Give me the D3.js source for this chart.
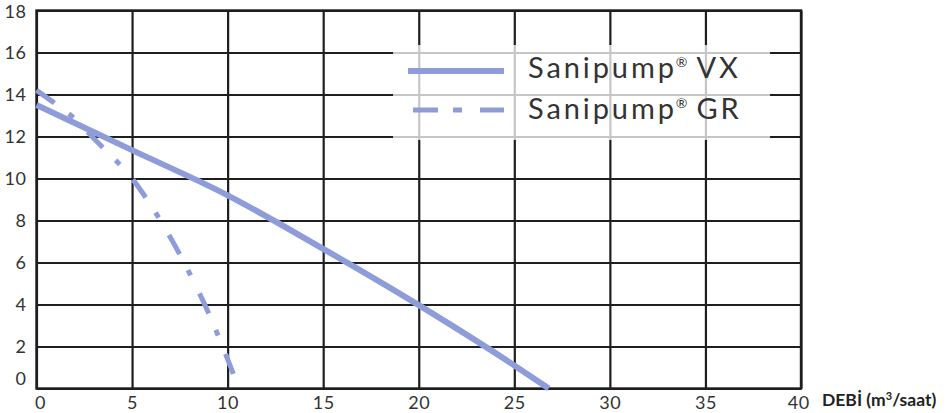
<!DOCTYPE html>
<html>
<head>
<meta charset="utf-8">
<script src="https://cdn.jsdelivr.net/npm/d3@7"></script>
<style>
  html, body { margin: 0; padding: 0; background: #ffffff; }
  svg { display: block; }
</style>
</head>
<body>
<svg id="chart" width="947" height="413"></svg>
<script>
// ---- data ----
const xTicks = [0, 5, 10, 15, 20, 25, 30, 35, 40];
const yTicks = [0, 2, 4, 6, 8, 10, 12, 14, 16, 18];
const xAxisTitle = "DEBİ (m³/saat)";

const vxFlow = [0, 5, 10, 15, 20, 25, 26.8];
const vxHead = [13.5, 11.35, 9.2, 6.65, 3.97, 1.1, 0];

const grFlow = [0, 1, 2, 3, 4, 5, 6, 7, 8, 9, 10.3];
const grHead = [14.2, 13.55, 12.85, 11.9, 11.0, 10.0, 8.7, 7.2, 5.5, 3.6, 0.7];

const seriesNames = ["Sanipump", "Sanipump"];
const seriesSuffix = ["VX", "GR"];

// ---- layout ----
const svg = d3.select("#chart");
const mLeft = 36.5, mRight = 801, mTop = 10.5, mBottom = 388.5;
const x = d3.scaleLinear().domain([0, 40]).range([mLeft, mRight]);
const y = d3.scaleLinear().domain([0, 18]).range([mBottom, mTop]);

const lineColor = "#8e9dd9";
const gridColor = "#1e1e1e";
const textColor = "#333333";
const font = "Lato, 'Open Sans', sans-serif";

// grid via axes
const gx = svg.append("g")
  .attr("transform", `translate(0,${mBottom})`)
  .call(d3.axisBottom(x).tickValues(xTicks).tickSize(-(mBottom - mTop)).tickPadding(8).tickFormat(d3.format("d")));
const gy = svg.append("g")
  .attr("transform", `translate(${mLeft},0)`)
  .call(d3.axisLeft(y).tickValues(yTicks).tickSize(-(mRight - mLeft)).tickPadding(10).tickFormat(d3.format("d")));

[gx, gy].forEach(g => {
  g.select(".domain").remove();
  g.selectAll(".tick line").attr("stroke", gridColor).attr("stroke-width", 2.2);
  g.selectAll(".tick text")
    .attr("fill", textColor)
    .style("font-family", font)
    .style("font-size", "18px")
    .style("font-weight", 400)
    .style("letter-spacing", "0.6px");
});
gy.selectAll(".tick text").filter(d => d === 0).attr("dy", "-0.2em");
gy.selectAll(".tick text").filter(d => d === 18).attr("dy", "0.4em");
gx.selectAll(".tick text").filter(d => d === 0).attr("dx", "0.2em");
gx.selectAll(".tick text").filter(d => d === 40).attr("dx", "-0.15em");

// frame
svg.append("rect")
  .attr("x", mLeft).attr("y", mTop)
  .attr("width", mRight - mLeft).attr("height", mBottom - mTop)
  .attr("fill", "none").attr("stroke", gridColor).attr("stroke-width", 2.4);

// axis title
const title = svg.append("text")
  .attr("x", 822).attr("y", 406)
  .attr("fill", "#222")
  .style("font-family", font)
  .style("font-size", "17.5px")
  .style("font-weight", 700);
title.append("tspan").text("DEBİ (m");
title.append("tspan").attr("dy", -6).style("font-size", "11px").text("3");
title.append("tspan").attr("dy", 6).text("/saat)");

// lines
const line = d3.line().curve(d3.curveMonotoneX).x(d => x(d[0])).y(d => y(d[1]));
const vxData = vxFlow.map((f, i) => [f, vxHead[i]]);
const grData = grFlow.map((f, i) => [f, grHead[i]]);

svg.append("path").datum(grData)
  .attr("d", line)
  .attr("fill", "none")
  .attr("stroke", lineColor)
  .attr("stroke-width", 5)
  .attr("stroke-dasharray", "22,18,6,20");

svg.append("path").datum(vxData)
  .attr("d", line)
  .attr("fill", "none")
  .attr("stroke", lineColor)
  .attr("stroke-width", 6);

// legend
const lg = svg.append("g");
lg.append("rect")
  .attr("x", 393).attr("y", 45).attr("width", 377).attr("height", 95)
  .attr("fill", "#ffffff").attr("fill-opacity", 0.75);

lg.append("line")
  .attr("x1", 408).attr("x2", 504).attr("y1", 71).attr("y2", 71)
  .attr("stroke", lineColor).attr("stroke-width", 6);
lg.append("line")
  .attr("x1", 413).attr("x2", 504).attr("y1", 110).attr("y2", 110)
  .attr("stroke", lineColor).attr("stroke-width", 5)
  .attr("stroke-dasharray", "25,15,9,18,25");

[78, 119].forEach((by, i) => {
  const t = lg.append("text")
    .attr("x", 528).attr("y", by)
    .attr("fill", textColor)
    .style("font-family", font)
    .style("font-size", "29px")
    .style("font-weight", 400)
    .style("letter-spacing", "2.9px");
  t.append("tspan").text(seriesNames[i]);
  t.append("tspan").attr("dy", -11).attr("dx", -1).style("font-size", "14px").style("letter-spacing", "0px").text("®");
  t.append("tspan").attr("dy", 11).attr("dx", 9).text(seriesSuffix[i]);
});
</script>
</body>
</html>
